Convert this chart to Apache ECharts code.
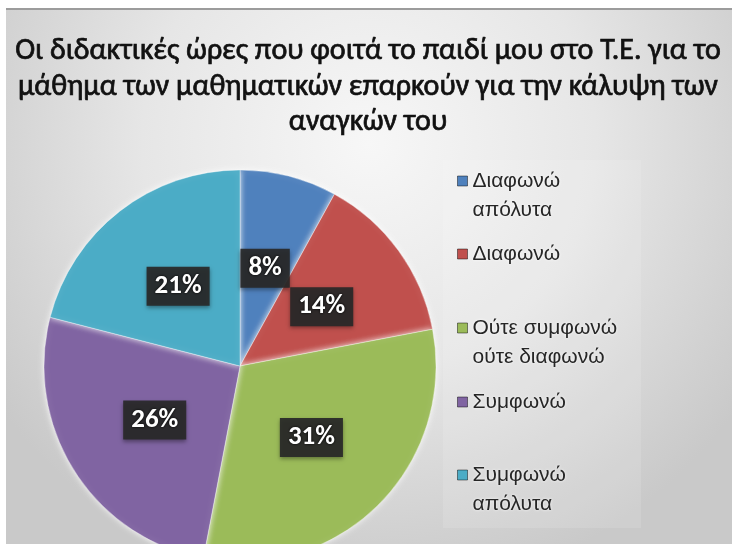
<!DOCTYPE html>
<html><head><meta charset="utf-8">
<script src="https://cdn.jsdelivr.net/npm/echarts@6/dist/echarts.min.js"></script>
<style>html,body{margin:0;padding:0;background:#fff}#c{width:732px;height:544px}</style>
</head><body><div id="c"></div>
<script>
const titleText = 'Οι διδακτικές ώρες που φοιτά το παιδί μου στο Τ.Ε. για το\nμάθημα των μαθηματικών επαρκούν για την κάλυψη των\nαναγκών του';
const categories = ['Διαφωνώ απόλυτα', 'Διαφωνώ', 'Ούτε συμφωνώ ούτε διαφωνώ', 'Συμφωνώ', 'Συμφωνώ απόλυτα'];
const legendLabels = ['Διαφωνώ\nαπόλυτα', 'Διαφωνώ', 'Ούτε συμφωνώ\nούτε διαφωνώ', 'Συμφωνώ', 'Συμφωνώ\nαπόλυτα'];
const values = [8, 14, 31, 26, 21];
const colors = ['#4f81bd', '#c0504d', '#9bbb59', '#8064a2', '#4bacc6'];

const chart = echarts.init(document.getElementById('c'));
const legendFirstLine = [181, 254, 328, 402, 475];
const legends = categories.map((name, i) => {
  const twoLine = legendLabels[i].indexOf('\n') >= 0;
  return {
    data: [name],
    orient: 'vertical',
    left: 457,
    top: twoLine ? legendFirstLine[i] - 43.5 : legendFirstLine[i] - 14.5,
    padding: 0,
    itemWidth: 10,
    itemHeight: 10,
    icon: 'rect',
    selectedMode: false,
    // a blank leading line keeps the marker level with the first text line
    formatter: () => (twoLine ? ' \n' : '') + legendLabels[i],
    itemStyle: { borderColor: 'rgba(0,0,0,0.45)', borderWidth: 1 },
    textStyle: {
      fontFamily: 'Liberation Sans', fontSize: 21, color: '#262626', lineHeight: 29,
      textShadowColor: '#fff', textShadowBlur: 3
    }
  };
});

chart.setOption({
  animation: false,
  graphic: [
    { type: 'rect', z: -10, silent: true, shape: { x: 0, y: 0, width: 732, height: 544 }, style: { fill: '#fff' } },
    { type: 'rect', z: -9, silent: true, shape: { x: 6, y: 10, width: 726, height: 534 },
      style: { fill: { type: 'radial', x: 0.5, y: 0.25, r: 0.85, colorStops: [
        { offset: 0, color: '#f7f7f7' }, { offset: 0.5, color: '#e6e6e6' }, { offset: 1, color: '#c9c9c9' } ] } } },
    { type: 'rect', z: -8, silent: true, shape: { x: 6, y: 8, width: 726, height: 2 }, style: { fill: '#9c9c9c' } },
    { type: 'rect', z: -7, silent: true, shape: { x: 443, y: 160, width: 198, height: 368 }, style: { fill: 'rgba(255,255,255,0.12)' } }
  ],
  title: {
    text: titleText,
    left: 368, top: 34, textAlign: 'center', padding: 0,
    textStyle: { fontFamily: 'Carlito, Noto Sans', fontSize: 30, fontWeight: 'normal', color: '#111',
      textBorderColor: '#111', textBorderWidth: 0.7, lineHeight: 35.5 }
  },
  legend: legends,
  series: [{
    type: 'pie',
    center: [240, 366],
    radius: 196,
    startAngle: 90,
    clockwise: true,
    data: categories.map((n, i) => ({ name: n, value: values[i], itemStyle: { color: colors[i] } })),
    itemStyle: { borderColor: 'rgba(255,255,255,0.35)', borderWidth: 1, shadowColor: 'rgba(255,255,255,0.9)', shadowBlur: 6 },
    label: {
      position: 'inside',
      formatter: p => p.value + '%',
      fontFamily: 'Carlito, Liberation Sans', fontWeight: 'bold', fontSize: 27, color: '#fff',
      backgroundColor: 'rgba(40,40,40,0.92)', padding: [7, 8, 5, 8],
      textShadowColor: '#000', textShadowBlur: 3,
      shadowColor: 'rgba(0,0,0,0.4)', shadowBlur: 4, shadowOffsetY: 2
    },
    labelLine: { show: false },
    emphasis: { disabled: true }
  }]
});
</script></body></html>
